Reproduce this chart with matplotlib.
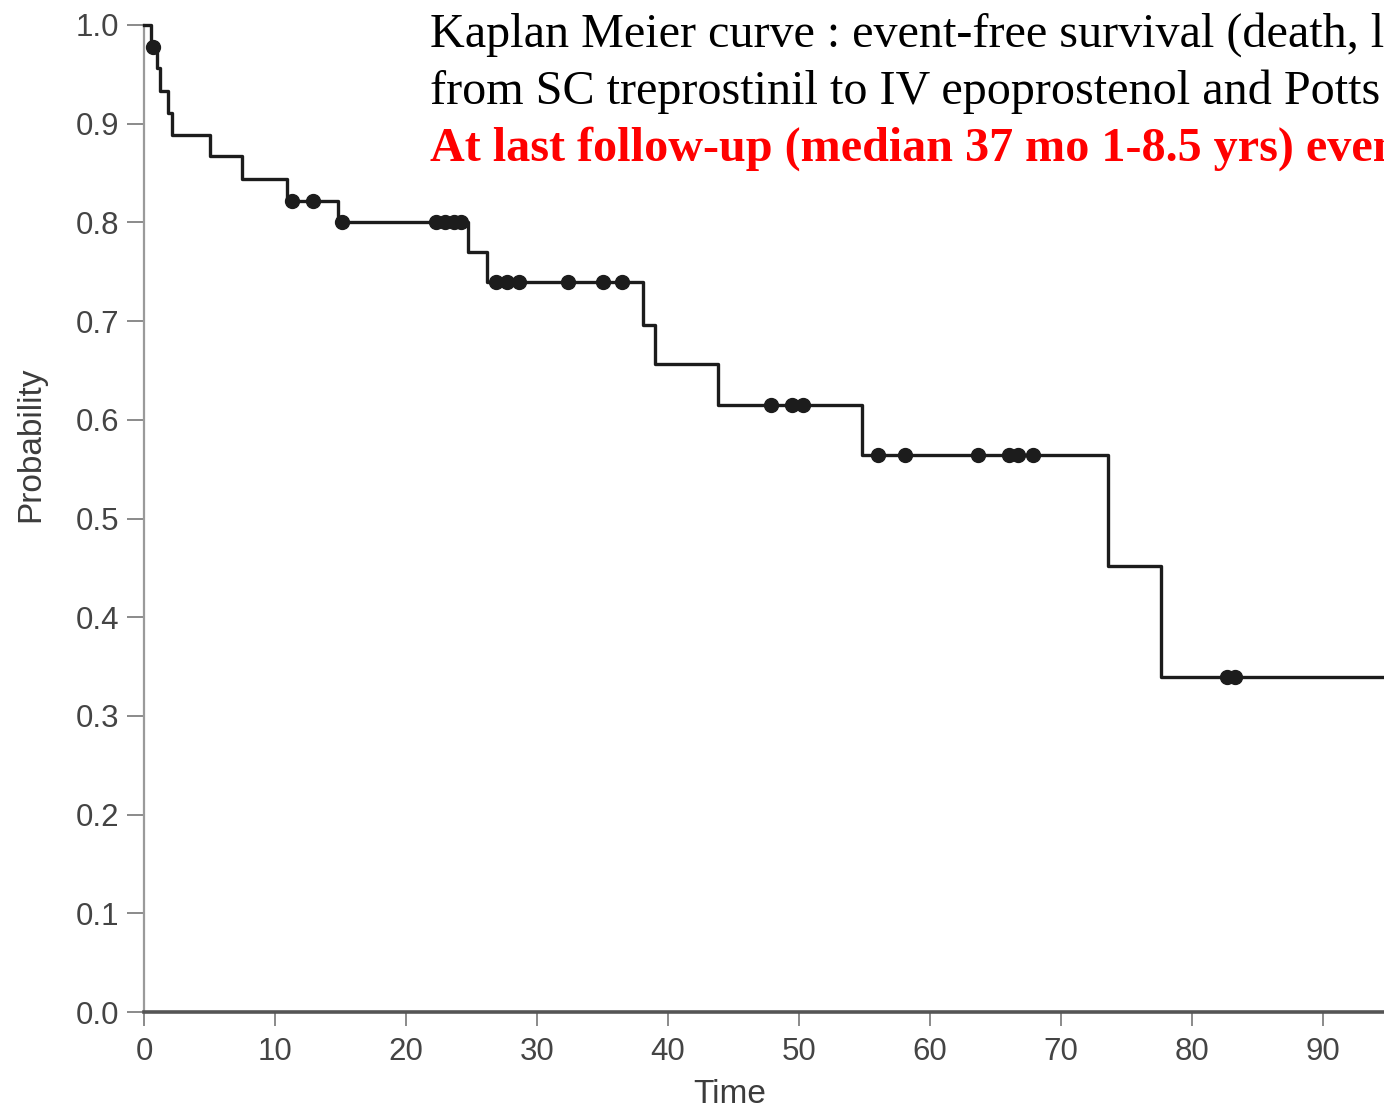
import numpy as np
import matplotlib
matplotlib.use("Agg")
import matplotlib.pyplot as plt

# Kaplan-Meier estimate: event times (months) and survival level after each step
event_times = [0, 0.5, 1.0, 1.2, 1.8, 2.1, 5.0, 7.5, 10.9, 14.8, 24.7, 26.2,
               38.1, 39.0, 43.8, 54.8, 73.6, 77.6]
surv = [1.0, 0.978, 0.956, 0.933, 0.911, 0.889, 0.867, 0.844, 0.822, 0.800,
        0.770, 0.740, 0.696, 0.657, 0.615, 0.564, 0.452, 0.339]
last_followup = 102

# censored patients (months)
censored = [0.7, 11.3, 12.9, 15.1, 22.3, 23.0, 23.7, 24.2, 26.9, 27.7, 28.6,
            32.4, 35.0, 36.5, 47.9, 49.5, 50.3, 56.0, 58.1, 63.7, 66.0, 66.7,
            67.9, 82.7, 83.3]

xticks = list(range(0, 100, 10))
yticks = np.round(np.arange(0, 1.01, 0.1), 1)

W, H = 1384, 1109
fig = plt.figure(figsize=(W / 100, H / 100), dpi=100)
ax = fig.add_axes([144 / W, (H - 1012) / H, 1310 / W, 987 / H])

line_col = "#1c1c1c"
t = list(event_times) + [last_followup]
s = list(surv) + [surv[-1]]
ax.step(t, s, where="post", color=line_col, lw=2.4, clip_on=False, zorder=3)

# censor marks sit on the curve
idx = np.searchsorted(event_times, censored, side="right") - 1
cens_s = np.array(surv)[idx]
ax.plot(censored, cens_s, "o", color=line_col, ms=10, clip_on=False, zorder=4)

ax.set_xlim(0, 100)
ax.set_ylim(0, 1.0)
ax.set_xticks(xticks)
ax.set_yticks(yticks)
ax.set_yticklabels([f"{v:.1f}" for v in yticks])

for sp in ("top", "right"):
    ax.spines[sp].set_visible(False)
ax.spines["left"].set_color("#9a9a9a")
ax.spines["left"].set_linewidth(1.6)
ax.spines["bottom"].set_color("#555555")
ax.spines["bottom"].set_linewidth(2.6)

ax.tick_params(axis="y", direction="out", length=12, width=1.4, color="#8a8a8a",
               labelsize=22.5, labelcolor="#444444", pad=6)
ax.tick_params(axis="x", direction="out", length=10, width=1.4, color="#8a8a8a",
               labelsize=22.5, labelcolor="#444444", pad=8)
for lab in ax.get_xticklabels() + ax.get_yticklabels():
    lab.set_family("Liberation Sans")

ax.set_ylabel("Probability", fontsize=24, color="#3c3c3c", family="Liberation Sans")
ax.yaxis.set_label_coords((46 - 144) / 1310, (1012 - 444) / 987)
ax.set_xlabel("Time", fontsize=24, color="#3c3c3c", family="Liberation Sans")
ax.xaxis.set_label_coords((730 - 144) / 1310, -(1079 - 1012) / 987)

x0 = 430 / W
fig.text(x0, 1 - 47 / H, "Kaplan Meier curve : event-free survival (death, lung",
         fontsize=34.7, family="Liberation Serif", va="baseline", color="black")
fig.text(x0, 1 - 104 / H, "from SC treprostinil to IV epoprostenol and Potts shunt",
         fontsize=34.7, family="Liberation Serif", va="baseline", color="black")
fig.text(x0, 1 - 161 / H, "At last follow-up (median 37 mo 1-8.5 yrs) event",
         fontsize=34.7, family="Liberation Serif", weight="bold", va="baseline",
         color="#ff0000")

fig.savefig("out.png", dpi=100)
